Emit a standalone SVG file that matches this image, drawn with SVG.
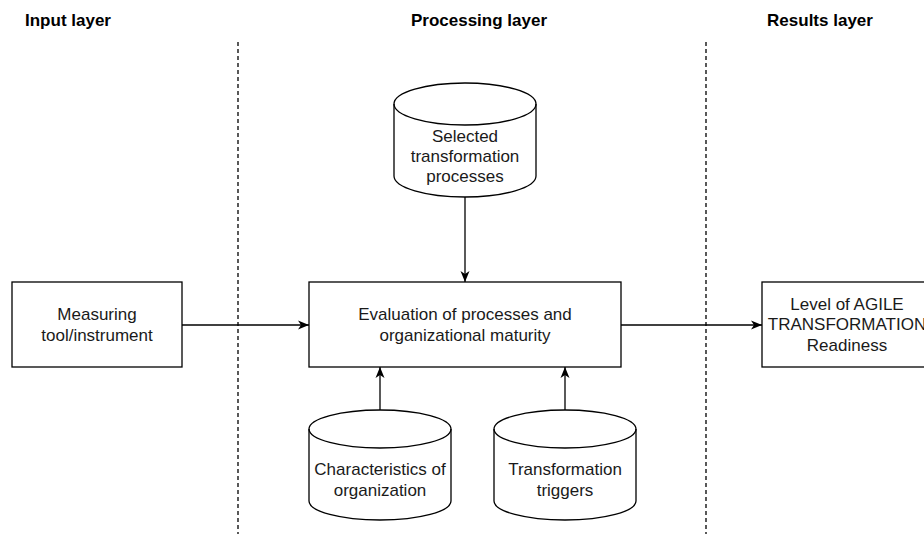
<svg xmlns="http://www.w3.org/2000/svg" width="924" height="534" viewBox="0 0 924 534">
<style>
.hdr{font-family:"Liberation Sans",Arial,sans-serif;font-size:17px;font-weight:bold;fill:#000;text-anchor:middle}
.lbl{font-family:"Liberation Sans",Arial,sans-serif;font-size:17px;fill:#1a1a1a;text-anchor:middle}
.box{fill:#fff;stroke:#000;stroke-width:1.3}
.edge{fill:none;stroke:#000;stroke-width:1.3}
.sep{fill:none;stroke:#000;stroke-width:1.3;stroke-dasharray:4 3}
</style>
<defs>
<marker id="arr" markerUnits="userSpaceOnUse" markerWidth="12" markerHeight="10" refX="11" refY="5" orient="auto">
<path d="M0,0.5 L11,5 L0,9.5 L3,5 Z" fill="#000"/>
</marker>
</defs>
<rect width="924" height="534" fill="#fff"/>
<g id="headers">
<text class="hdr" x="68" y="26">Input layer</text>
<text class="hdr" x="479" y="26">Processing layer</text>
<text class="hdr" x="820" y="26">Results layer</text>
</g>
<g id="separators">
<line class="sep" x1="238" y1="42" x2="238" y2="534"/>
<line class="sep" x1="706" y1="42" x2="706" y2="534"/>
</g>
<g id="connectors">
<line class="edge" x1="182" y1="325" x2="309" y2="325" marker-end="url(#arr)"/>
<line class="edge" x1="621" y1="325" x2="762" y2="325" marker-end="url(#arr)"/>
<line class="edge" x1="465" y1="197" x2="465" y2="282" marker-end="url(#arr)"/>
<line class="edge" x1="380" y1="410" x2="380" y2="367" marker-end="url(#arr)"/>
<line class="edge" x1="565" y1="410" x2="565" y2="367" marker-end="url(#arr)"/>
</g>
<g id="measuring">
<rect class="box" x="12" y="282" width="170" height="85"/>
<text class="lbl" x="97" y="320">Measuring</text>
<text class="lbl" x="97" y="341">tool/instrument</text>
</g>
<g id="evaluation">
<rect class="box" x="309" y="282" width="312" height="85"/>
<text class="lbl" x="465" y="320">Evaluation of processes and</text>
<text class="lbl" x="465" y="341">organizational maturity</text>
</g>
<g id="results">
<rect class="box" x="762" y="282" width="170" height="85"/>
<text class="lbl" x="847" y="310">Level of AGILE</text>
<text class="lbl" x="847" y="330">TRANSFORMATION</text>
<text class="lbl" x="847" y="351">Readiness</text>
</g>
<g id="selected">
<path class="box" d="M394,104 A71,21 0 0 1 536,104 L536,176 A71,21 0 0 1 394,176 Z"/>
<path class="edge" d="M394,104 A71,21 0 0 0 536,104"/>
<text class="lbl" x="465" y="142">Selected</text>
<text class="lbl" x="465" y="162">transformation</text>
<text class="lbl" x="465" y="182">processes</text>
</g>
<g id="characteristics">
<path class="box" d="M309,429 A71,19 0 0 1 451,429 L451,501 A71,19 0 0 1 309,501 Z"/>
<path class="edge" d="M309,429 A71,19 0 0 0 451,429"/>
<text class="lbl" x="380" y="475">Characteristics of</text>
<text class="lbl" x="380" y="496">organization</text>
</g>
<g id="triggers">
<path class="box" d="M494,429 A71,19 0 0 1 636,429 L636,501 A71,19 0 0 1 494,501 Z"/>
<path class="edge" d="M494,429 A71,19 0 0 0 636,429"/>
<text class="lbl" x="565" y="475">Transformation</text>
<text class="lbl" x="565" y="496">triggers</text>
</g>
</svg>
